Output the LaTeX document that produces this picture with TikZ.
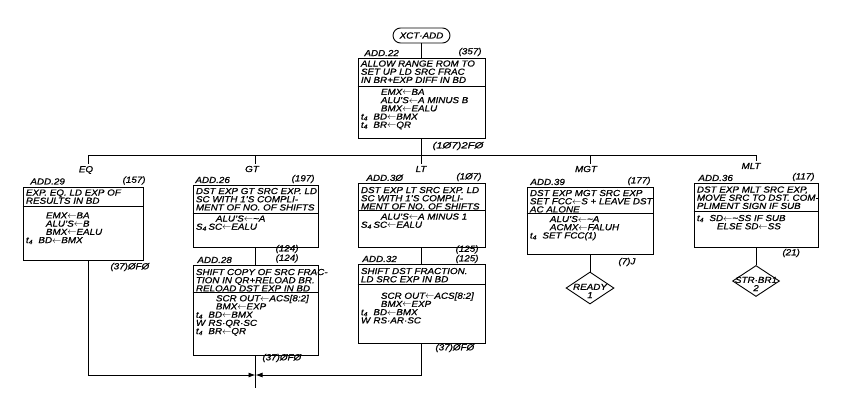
\documentclass[tikz,border=0pt]{standalone}
\usepackage{fontspec}
\setmainfont{Liberation Sans}[FakeStretch=1.13,FakeBold=0.8]
\usetikzlibrary{shapes.geometric,arrows.meta}
\newcommand\la{$\leftarrow$}
\newcommand\tf{t\textsubscript{4}}
\newcommand\pfx[1]{\makebox[12.5pt][l]{#1}}
\newcommand\ind{\hspace*{20pt}}
\begin{document}
\begin{tikzpicture}[x=1pt,y=-1pt,line width=0.9pt,
  every node/.style={font=\fontsize{8.7}{8.2}\selectfont\itshape,inner sep=0pt},
  box/.style={draw,rectangle,inner sep=0pt},
  txt/.style={anchor=north west,align=left},
  hl/.style={anchor=south west},
  hr/.style={anchor=south east},
  ft/.style={anchor=west},
  fr/.style={anchor=east},
  coll/.style={inner sep=1.5pt},
  tip/.style={-{Latex[length=7pt,width=5pt]}},
  dia/.style={draw,diamond,inner sep=0pt,minimum width=48pt,minimum height=32pt}]
\useasboundingbox (0,0) rectangle (864,402);

% terminal and top box
\node[draw,rounded corners=7.5pt,minimum width=57pt,minimum height=15pt] (term) at (421.5,35.5) {XCT·ADD};
\node[box,minimum width=127pt,minimum height=80pt] (b22) at (421.5,98) {};
\draw ([yshift=-29pt]b22.north west) -- ([yshift=-29pt]b22.north east);
\node[hl] (h22a) at (364,56.5) {ADD.22};
\node[hr] (h22b) at (482,56.5) {(357)};
\node[txt] (t22a) at (360.5,60) {ALLOW RANGE ROM TO\\SET UP LD SRC FRAC\\IN BR+EXP DIFF IN BD};
\node[txt] (t22b) at (360.5,88.5) {\ind EMX\la BA\\\ind ALU'S\la A MINUS B\\\ind BMX\la EALU\\\pfx{\tf}BD\la BMX\\\pfx{\tf}BR\la QR};
\node[ft,xscale=1.15] (f22) at (432,146) {(1Ø7)2FØ};

% bus
\coordinate (bEQ) at (88,155);
\coordinate (bGT) at (255.5,155);
\coordinate (bTop) at (421.5,155);
\coordinate (bMGT) at (590,155);
\coordinate (bMLT) at (756,155);
\draw (term) -- (b22);
\draw (b22) -- (bTop);
\draw (bEQ) -- (bMLT);

% column labels
\node[coll] (lEQ) at (86,170) {EQ};
\node[coll] (lGT) at (252,169) {GT};
\node[coll] (lLT) at (421,169) {LT};
\node[coll] (lMGT) at (586,169) {MGT};
\node[coll] (lMLT) at (751,166) {MLT};
\draw (bEQ) -- (bEQ |- lEQ.north);
\draw (bGT) -- (bGT |- lGT.north);
\draw (bTop) -- (bTop |- lLT.north);
\draw (bMGT) -- (bMGT |- lMGT.north);
\draw (bMLT) -- (bMLT |- lMLT.north);

% EQ
\node[box,minimum width=120pt,minimum height=73pt] (b29) at (83,223.5) {};
\draw ([yshift=-20pt]b29.north west) -- ([yshift=-20pt]b29.north east);
\node[hl] (h29a) at (30,185) {ADD.29};
\node[hr] (h29b) at (146,185) {(157)};
\node[txt] (t29a) at (25.5,189) {EXP. EQ. LD EXP OF\\RESULTS IN BD};
\node[txt] (t29b) at (25.5,212) {\ind EMX\la BA\\\ind ALU'S\la B\\\ind BMX\la EALU\\\pfx{\tf}BD\la BMX};
\node[ft] (f29) at (110,267) {(37)ØFØ};

% GT
\node[box,minimum width=125pt,minimum height=62pt] (b26) at (255.5,216) {};
\draw ([yshift=-29pt]b26.north west) -- ([yshift=-29pt]b26.north east);
\node[hl] (h26a) at (195,183.5) {ADD.26};
\node[hr] (h26b) at (315,183.5) {(197)};
\node[txt] (t26a) at (195.5,187.5) {DST EXP GT SRC EXP. LD\\SC WITH 1'S COMPLI-\\MENT OF NO. OF SHIFTS};
\node[txt] (t26b) at (195.5,215) {\ind ALU'S\la\textasciitilde A\\\pfx{S\textsubscript{4}}SC\la EALU};
\node[fr] (f26) at (299,249) {(124)};

\node[box,minimum width=125pt,minimum height=90pt] (b28) at (255.5,310) {};
\draw ([yshift=-28pt]b28.north west) -- ([yshift=-28pt]b28.north east);
\node[hl] (h28a) at (197,263.5) {ADD.28};
\node[fr] (h28b) at (299,258.5) {(124)};
\node[txt] (t28a) at (195.5,268.5) {SHIFT COPY OF SRC FRAC-\\TION IN QR+RELOAD BR.\\RELOAD DST EXP IN BD};
\node[txt] (t28b) at (195.5,294.5) {\ind SCR OUT\la ACS[8:2]\\\ind BMX\la EXP\\\pfx{\tf}BD\la BMX\\\pfx{W}RS·QR·SC\\\pfx{\tf}BR\la QR};
\node[ft] (f28) at (262,358) {(37)ØFØ};

% LT
\node[box,minimum width=127pt,minimum height=64pt] (b30) at (421.5,215) {};
\draw ([yshift=-28pt]b30.north west) -- ([yshift=-28pt]b30.north east);
\node[hl] (h30a) at (366,181.5) {ADD.3Ø};
\node[hr] (h30b) at (482,181.5) {(1Ø7)};
\node[txt] (t30a) at (360.5,186.5) {DST EXP LT SRC EXP. LD\\SC WITH 1'S COMPLI-\\MENT OF NO. OF SHIFTS};
\node[txt] (t30b) at (360.5,213) {\ind ALU'S\la A MINUS 1\\\pfx{S\textsubscript{4}}SC\la EALU};
\node[fr] (f30) at (479,249.5) {(125)};

\node[box,minimum width=127pt,minimum height=79pt] (b32) at (421.5,303.5) {};
\draw ([yshift=-21pt]b32.north west) -- ([yshift=-21pt]b32.north east);
\node[hl] (h32a) at (362,262.5) {ADD.32};
\node[fr] (h32b) at (479,259) {(125)};
\node[txt] (t32a) at (360.5,267.5) {SHIFT DST FRACTION.\\LD SRC EXP IN BD};
\node[txt] (t32b) at (360.5,292) {\ind SCR OUT\la ACS[8:2]\\\ind BMX\la EXP\\\pfx{\tf}BD\la BMX\\\pfx{W}RS·AR·SC};
\node[ft] (f32) at (435,348) {(37)ØFØ};

% MGT
\node[box,minimum width=126pt,minimum height=67pt] (b39) at (590,220.5) {};
\draw ([yshift=-27pt]b39.north west) -- ([yshift=-27pt]b39.north east);
\node[hl] (h39a) at (530,185.5) {ADD.39};
\node[hr] (h39b) at (651,185.5) {(177)};
\node[txt] (t39a) at (529.5,189.5) {DST EXP MGT SRC EXP\\SET FCC\la S + LEAVE DST\\AC ALONE};
\node[txt] (t39b) at (529.5,215.5) {\ind ALU'S\la\textasciitilde A\\\ind ACMX\la FALUH\\\pfx{\tf}SET FCC(1)};
\node[ft] (f39) at (618,262) {(7)J};
\node[dia] (rdy) at (590,288) {};
\node[align=center] (rdyt) at (590,291) {READY\\1};
\draw (b39) -- (rdy);

% MLT
\node[box,minimum width=124pt,minimum height=64pt] (b36) at (756,215) {};
\draw ([yshift=-29pt]b36.north west) -- ([yshift=-29pt]b36.north east);
\node[hl] (h36a) at (698,181.5) {ADD.36};
\node[hr] (h36b) at (815,181.5) {(117)};
\node[txt] (t36a) at (696.5,186) {DST EXP MLT SRC EXP,\\MOVE SRC TO DST. COM-\\PLIMENT SIGN IF SUB};
\node[txt] (t36b) at (696.5,214.5) {\pfx{\tf}SD\la\textasciitilde SS IF SUB\\\ind ELSE SD\la SS};
\node[ft] (f36) at (782,253) {(21)};
\node[dia,minimum width=47pt,minimum height=31pt] (str) at (756,281) {};
\node[align=center] (strt) at (756,284) {STR·BR1\\2};
\draw (b36) -- (str);

% vertical connectors
\draw (b26) -- (b28);
\draw (b30) -- (b32);
\coordinate (jMid) at (255.5,375);
\coordinate (endDown) at (255.5,388);
\draw[tip] (b29.south -| bEQ) |- (jMid);
\draw[tip] (b32) |- (jMid);
\draw (b28) -- (endDown);
\end{tikzpicture}
\end{document}
